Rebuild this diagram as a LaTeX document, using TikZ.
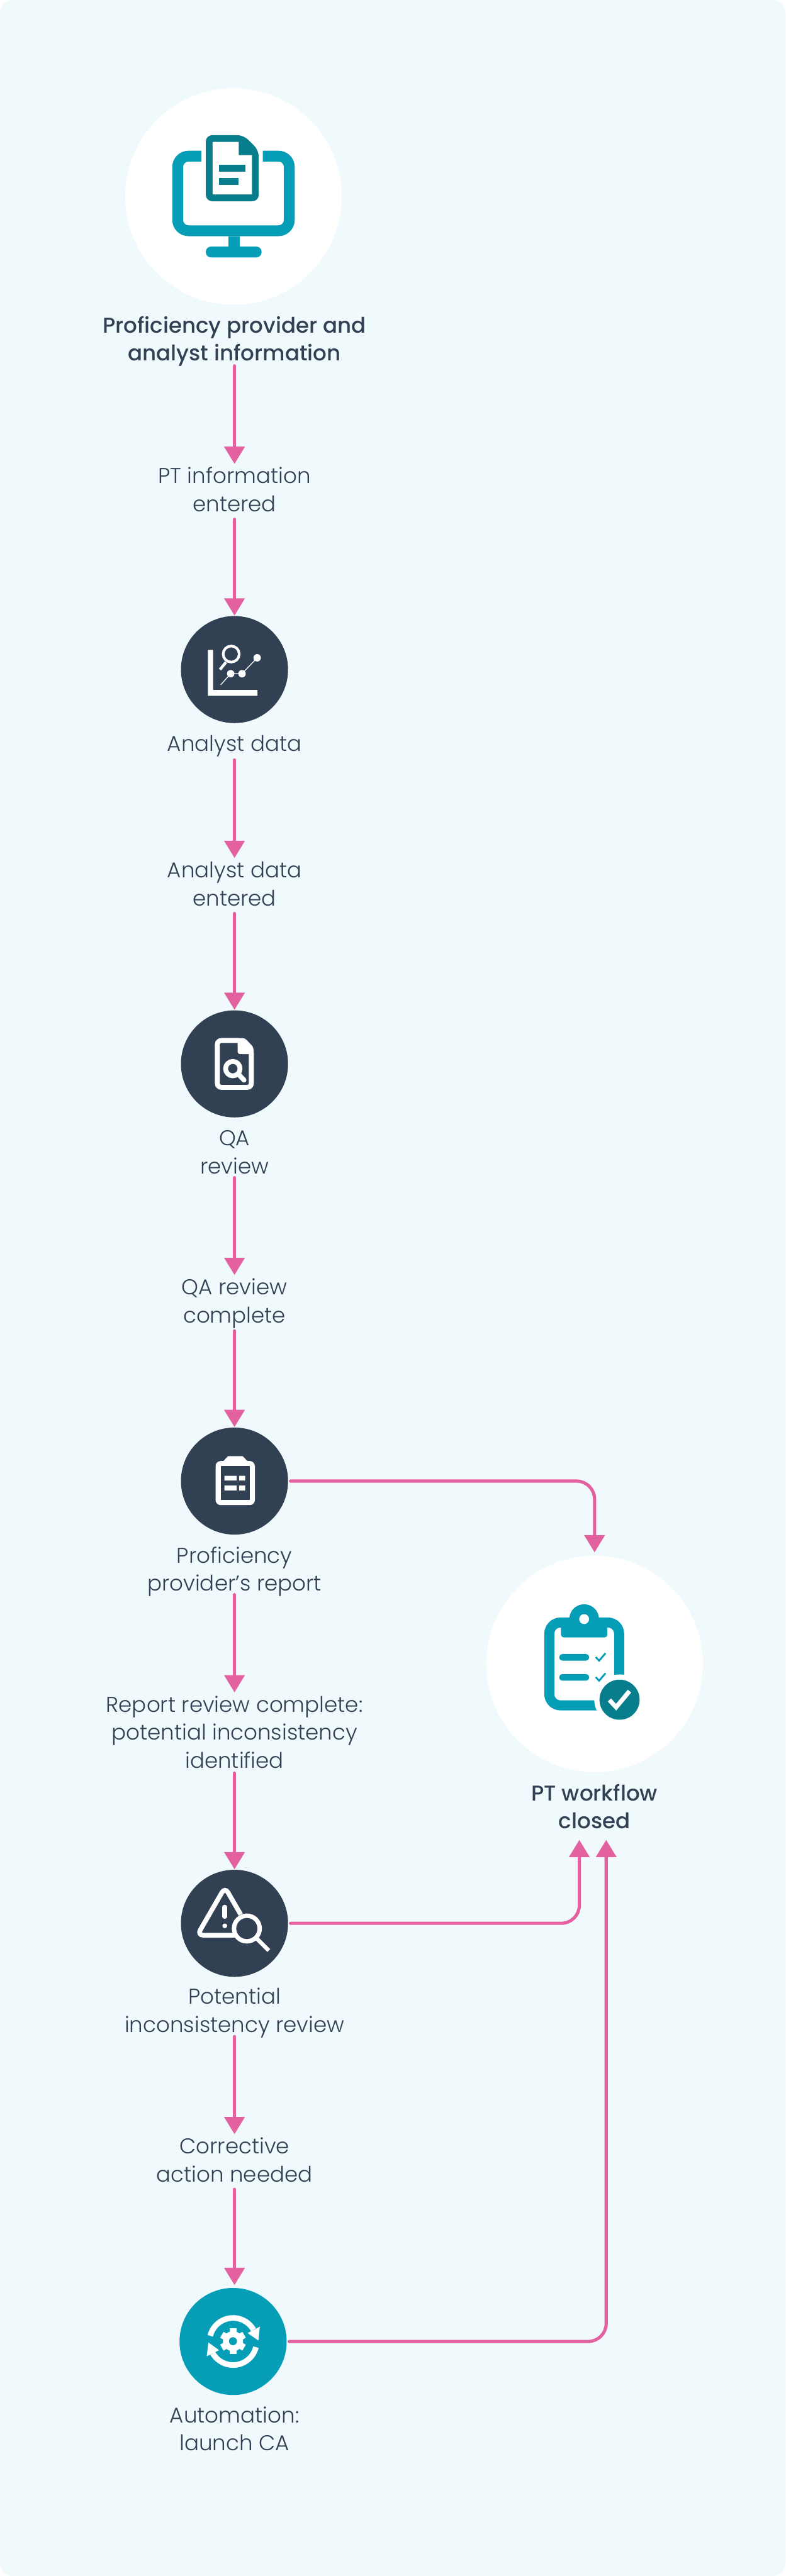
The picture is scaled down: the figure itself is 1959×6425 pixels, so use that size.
\documentclass[tikz,border=0pt]{standalone}
\usepackage{fontspec}
\setmainfont{Poppins}[UprightFont=* Light,BoldFont=* Medium]
\usetikzlibrary{arrows.meta,calc}
\definecolor{bgc}{HTML}{F0F9FB}
\definecolor{navy}{HTML}{324053}
\definecolor{pinkc}{HTML}{E4619F}
\definecolor{tealc}{HTML}{069EB7}
\definecolor{dteal}{HTML}{087D8B}
\newcommand{\ltxt}[1]{\begin{tabular}{@{}c@{}}#1\end{tabular}}
\tikzset{
  x=1pt,y=-1pt,
  flow/.style={draw=pinkc,line width=8pt,line cap=round,-{Triangle[length=43pt,width=50pt]}},
  bigc/.style={circle,fill=white,minimum size=540pt,inner sep=0pt},
  smallc/.style={circle,fill=navy,minimum size=267pt,inner sep=0pt},
  autoc/.style={smallc,fill=tealc},
  lab/.style={inner sep=0pt,text=navy,font=\fontsize{53.5}{70}\selectfont},
  labb/.style={lab,font=\fontsize{53.5}{70}\selectfont\bfseries},
  wl/.style={draw=white,line cap=round},
}
\begin{document}
\begin{tikzpicture}
\useasboundingbox (0,0) rectangle (1959,6425);
\fill[white] (0,0) rectangle (1959,6425);
\fill[bgc,rounded corners=34pt] (0,0) rectangle (1958,6425);

% circles
\node[bigc] (src) at (582,490) {};
\node[smallc] (analyst) at (584.5,1670) {};
\node[smallc] (qa) at (584.5,2653.5) {};
\node[smallc] (report) at (584.5,3694) {};
\node[smallc] (pot) at (584.5,4797) {};
\node[autoc] (auto) at (581,5840) {};
\node[bigc] (closed) at (1482,4150) {};

% labels
\node[labb,anchor=north] (srcl) at (584.5,781) {\ltxt{Proficiency provider and\\analyst information}};
\node[lab,anchor=north] (l1) at (584.5,1157) {\ltxt{PT information\\entered}};
\node[lab,anchor=north] (analystl) at (584.5,1825) {\ltxt{Analyst data}};
\node[lab,anchor=north] (l2) at (584.5,2140) {\ltxt{Analyst data\\entered}};
\node[lab,anchor=north] (qal) at (584.5,2808) {\ltxt{QA\\review}};
\node[lab,anchor=north] (l3) at (584.5,3180) {\ltxt{QA review\\complete}};
\node[lab,anchor=north] (reportl) at (584.5,3849) {\ltxt{Proficiency\\provider’s report}};
\node[lab,anchor=north] (l4) at (584.5,4221) {\ltxt{Report review complete:\\potential inconsistency\\identified}};
\node[lab,anchor=north] (potl) at (584.5,4949) {\ltxt{Potential\\inconsistency review}};
\node[lab,anchor=north] (l5) at (584.5,5323) {\ltxt{Corrective\\action needed}};
\node[lab,anchor=north] (autol) at (584.5,5993) {\ltxt{Automation:\\launch CA}};
\node[labb,anchor=north] (closedl) at (1482,4442) {\ltxt{PT workflow\\closed}};
\coordinate (inA) at (1444,4589);
\coordinate (inB) at (1511,4589);

% connectors
\draw[flow,shorten <=-9pt] (srcl.south) -- (l1.north);
\draw[flow,shorten <=-2pt,shorten >=1pt] (l1.south) -- (analyst.north);
\draw[flow] (analystl.south) -- (l2.north);
\draw[flow,shorten <=-2pt,shorten >=1pt] (l2.south) -- (qa.north);
\draw[flow,shorten <=-11pt] (qal.south) -- (l3.north);
\draw[flow,shorten <=-1pt,shorten >=1pt] (l3.south) -- (report.north);
\draw[flow,shorten <=-12pt] (reportl.south) -- (l4.north);
\draw[flow,shorten <=-9pt,shorten >=1pt] (l4.south) -- (pot.north);
\draw[flow,shorten <=-10pt] (potl.south) -- (l5.north);
\draw[flow,shorten <=-3pt,shorten >=7pt] (l5.south) -- (l5.south |- auto.north);
\draw[flow,rounded corners=45pt,shorten <=6pt,shorten >=8pt] (report.east) -| (closed.north);
\draw[flow,rounded corners=45pt,shorten <=6pt] (pot.east) -| (inA);
\draw[flow,rounded corners=45pt,shorten <=6pt] (auto.east) -| (inB);

% monitor icon
\draw[tealc,line width=27pt,rounded corners=27pt] (502,389.5) -- (443,389.5) -- (443,575.5) -- (721,575.5) -- (721,389.5) -- (655,389.5);
\fill[tealc] (569,589) rectangle (597,620);
\fill[tealc,rounded corners=13pt] (513,615) rectangle (652,642);
\fill[dteal,rounded corners=16pt] (513,337) -- (607,337) -- (645,375) -- (645,502) -- (513,502) -- cycle;
\fill[dteal] (607,342) -- (641,375) -- (641,400) -- (600,400) -- cycle;
\fill[white] (530,354) -- (595,354) -- (595,387) -- (628,387) -- (628,485) -- (530,485) -- cycle;
\fill[dteal] (546,411) rectangle (612,428);
\fill[dteal] (546,444) rectangle (595,461);

% analyst icon
\fill[white] (518.3,1621) -- (531,1621) -- (531,1721) -- (641.7,1721) -- (641.7,1735.3) -- (518.3,1735.3) -- cycle;
\draw[white,line width=6.5pt] (576.3,1631.3) circle[radius=20];
\draw[white,line width=7pt] (563.3,1651.7) -- (548.3,1670);
\draw[white,line width=2pt] (550,1708.3) -- (575,1680.3) -- (603.3,1680.3) -- (641,1640.7);
\fill[white] (575,1680.3) circle[radius=9.3] (603.3,1680.3) circle[radius=9.3] (641,1640.7) circle[radius=9.3];

% QA icon
\draw[white,line width=12.3pt,rounded corners=10pt] (603,2595) -- (541.8,2595) -- (541.8,2712) -- (626.5,2712) -- (626.5,2617) -- cycle;
\fill[white,rounded corners=6pt] (592.3,2589) -- (610,2589) -- (632,2612) -- (632,2629.3) -- (592.3,2629.3) -- cycle;
\draw[white,line width=12pt] (580.3,2665.3) circle[radius=18];
\draw[wl,line width=12pt] (594,2679) -- (608.3,2694);

% report icon
\fill[white,rounded corners=13pt] (537.3,3644) rectangle (635.3,3754);
\fill[white] (556,3645) -- (568.3,3632) -- (605,3632) -- (617.3,3645) -- cycle;
\fill[navy] (550,3656.7) rectangle (622.7,3741.7);
\fill[white] (559.3,3680.7) rectangle (590,3692.7) (595.7,3680.7) rectangle (611,3692.7);
\fill[white] (559.3,3705) rectangle (590,3717.3) (595.7,3705) rectangle (611,3717.3);

% warning icon
\draw[white,line width=11.7pt,rounded corners=15pt] (600,4775) -- (560.7,4707) -- (491.7,4826.7) -- (586,4826.7);
\draw[wl,line width=12pt] (560.3,4756.7) -- (560.3,4780);
\fill[white] (560.3,4803.3) circle[radius=6];
\draw[white,line width=11pt] (615.3,4810) circle[radius=32];
\draw[white,line width=10pt] (638,4833) -- (670,4865);

% automation icon
\begin{scope}
\coordinate (gc) at (581,5840);
\draw[white,line width=14pt] ([shift={(-166:58.7)}]gc) arc[start angle=-166,end angle=-30,radius=58.7];
\fill[white] (647.7,5803) -- (644,5837.7) -- (617.3,5819) -- cycle;
\draw[white,line width=14pt] ([shift={(14:58.7)}]gc) arc[start angle=14,end angle=150,radius=58.7];
\fill[white] (519.3,5842.3) -- (515.3,5877) -- (546,5861.7) -- cycle;
\foreach \a in {30,90,150,210,270,330}
  \draw[white,line width=17pt] (580.7,5839.3) -- ++(\a:32);
\fill[white] (580.7,5839.3) circle[radius=25];
\fill[tealc] (580.7,5839.3) circle[radius=10];
\end{scope}

% clipboard icon
\draw[tealc,line width=25pt,rounded corners=28pt] (1369.2,4046.8) rectangle (1543.2,4253.5);
\fill[tealc] (1456,4038.3) circle[radius=37];
\fill[tealc,rounded corners=7pt] (1398.3,4038) -- (1514,4038) -- (1514,4084) -- (1398.3,4084) -- cycle;
\fill[white] (1456,4038.3) circle[radius=12.3];
\fill[tealc,rounded corners=8pt] (1393.7,4125.3) rectangle (1468.7,4142);
\fill[tealc,rounded corners=8pt] (1393.7,4175.3) rectangle (1468.7,4192);
\draw[tealc,line width=4.5pt] (1485,4133) -- (1493.3,4142) -- (1509.3,4123.3);
\draw[tealc,line width=4.5pt] (1485,4183) -- (1493.3,4192) -- (1509.3,4173.3);
\fill[white] (1544.3,4239.3) circle[radius=63];
\fill[dteal] (1544.3,4239.3) circle[radius=50];
\draw[white,line width=11pt] (1519,4240) -- (1535.7,4258) -- (1569,4218);
\end{tikzpicture}
\end{document}
